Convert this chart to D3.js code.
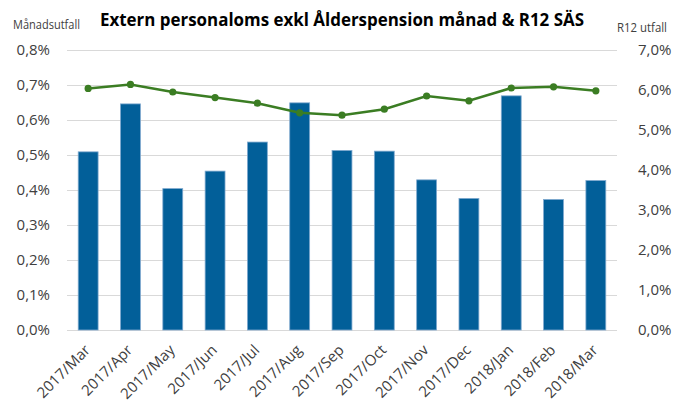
<!DOCTYPE html>
<html>
<head>
<meta charset="utf-8">
<script src="https://cdn.jsdelivr.net/npm/d3@7"></script>
<style>
  body { margin: 0; background: #fff; }
  text { font-family: "Open Sans", "DejaVu Sans", sans-serif; fill: #404040; }
</style>
</head>
<body>
<div id="chart"></div>
<script>
// months on the x axis
const months = ["2017/Mar", "2017/Apr", "2017/May", "2017/Jun", "2017/Jul", "2017/Aug", "2017/Sep",
    "2017/Oct", "2017/Nov", "2017/Dec", "2018/Jan", "2018/Feb", "2018/Mar"];
// monthly outcome (%), bars, left axis
const monthly = [0.509, 0.646, 0.404, 0.454, 0.537, 0.649, 0.513, 0.511, 0.429, 0.376, 0.669, 0.373, 0.427];
// rolling 12 months (%), line, right axis
const r12 = [6.04, 6.14, 5.95, 5.81, 5.67, 5.43, 5.37, 5.52, 5.85, 5.73, 6.05, 6.08, 5.98];
const leftTicks = [0, 0.1, 0.2, 0.3, 0.4, 0.5, 0.6, 0.7, 0.8];
const rightTicks = [0, 1, 2, 3, 4, 5, 6, 7];

const width = 687, height = 403;
const margin = {top: 50, right: 70, bottom: 73, left: 67};

const svg = d3.select("#chart").append("svg")
    .attr("width", width)
    .attr("height", height);

const x = d3.scaleBand()
    .domain(months)
    .range([margin.left, width - margin.right])
    .paddingInner(0.53)
    .paddingOuter(0.265);
const yL = d3.scaleLinear().domain([0, 0.8]).range([height - margin.bottom, margin.top]);
const yR = d3.scaleLinear().domain([0, 7]).range([height - margin.bottom, margin.top]);

const fmt = (d, n) => d.toFixed(n).replace(".", ",") + "%";

// gridlines
svg.append("g")
    .selectAll("line")
    .data(leftTicks)
    .join("line")
    .attr("x1", margin.left)
    .attr("x2", width - margin.right)
    .attr("y1", d => Math.round(yL(d)) + 0.5)
    .attr("y2", d => Math.round(yL(d)) + 0.5)
    .attr("stroke", "#d9d9d9")
    .attr("stroke-width", 1);

// left axis
const axL = svg.append("g")
    .attr("transform", `translate(${margin.left},0)`)
    .call(d3.axisLeft(yL).tickValues(leftTicks).tickSize(0).tickPadding(17).tickFormat(d => fmt(d, 1)));
axL.select(".domain").remove();
axL.selectAll("text").style("font-size", "15px").attr("fill", "#404040");

// right axis
const axR = svg.append("g")
    .attr("transform", `translate(${width - margin.right},0)`)
    .call(d3.axisRight(yR).tickValues(rightTicks).tickSize(0).tickPadding(21).tickFormat(d => fmt(d, 1)));
axR.select(".domain").remove();
axR.selectAll("text").style("font-size", "15px").attr("fill", "#404040");

// bars
svg.append("g")
    .selectAll("rect")
    .data(monthly)
    .join("rect")
    .attr("x", (d, i) => x(months[i]))
    .attr("y", d => yL(d))
    .attr("width", x.bandwidth())
    .attr("height", d => yL(0) - yL(d))
    .attr("fill", "#025f99")
    .attr("stroke", "#7fa9cf")
    .attr("stroke-width", 0.8);

// bottom axis labels
const axB = svg.append("g")
    .attr("transform", `translate(0,${height - margin.bottom})`)
    .call(d3.axisBottom(x).tickSize(0).tickPadding(0));
axB.select(".domain").remove();
axB.selectAll("text")
    .style("font-size", "15px")
    .attr("fill", "#404040")
    .attr("text-anchor", "end")
    .attr("dy", "0")
    .attr("transform", "translate(3,21) rotate(-45)");

// R12 line
const line = d3.line()
    .x((d, i) => x(months[i]) + x.bandwidth() / 2)
    .y(d => yR(d));
svg.append("path")
    .datum(r12)
    .attr("fill", "none")
    .attr("stroke", "#3b7d23")
    .attr("stroke-width", 2.5)
    .attr("d", line);
svg.append("g")
    .selectAll("circle")
    .data(r12)
    .join("circle")
    .attr("cx", (d, i) => x(months[i]) + x.bandwidth() / 2)
    .attr("cy", d => yR(d))
    .attr("r", 3.6)
    .attr("fill", "#3b7d23");

// title and axis titles
svg.append("text")
    .attr("x", 342)
    .attr("y", 26)
    .attr("text-anchor", "middle")
    .style("font-size", "17px")
    .style("font-weight", "bold")
    .style("fill", "#000")
    .attr("textLength", 484)
    .attr("lengthAdjust", "spacingAndGlyphs")
    .text("Extern personaloms exkl Ålderspension månad & R12 SÄS");
svg.append("text")
    .attr("x", 13)
    .attr("y", 29)
    .style("font-size", "12px")
    .attr("textLength", 67)
    .attr("lengthAdjust", "spacingAndGlyphs")
    .text("Månadsutfall");
svg.append("text")
    .attr("x", 617)
    .attr("y", 32)
    .style("font-size", "12px")
    .attr("textLength", 50)
    .attr("lengthAdjust", "spacingAndGlyphs")
    .text("R12 utfall");
</script>
</body>
</html>
